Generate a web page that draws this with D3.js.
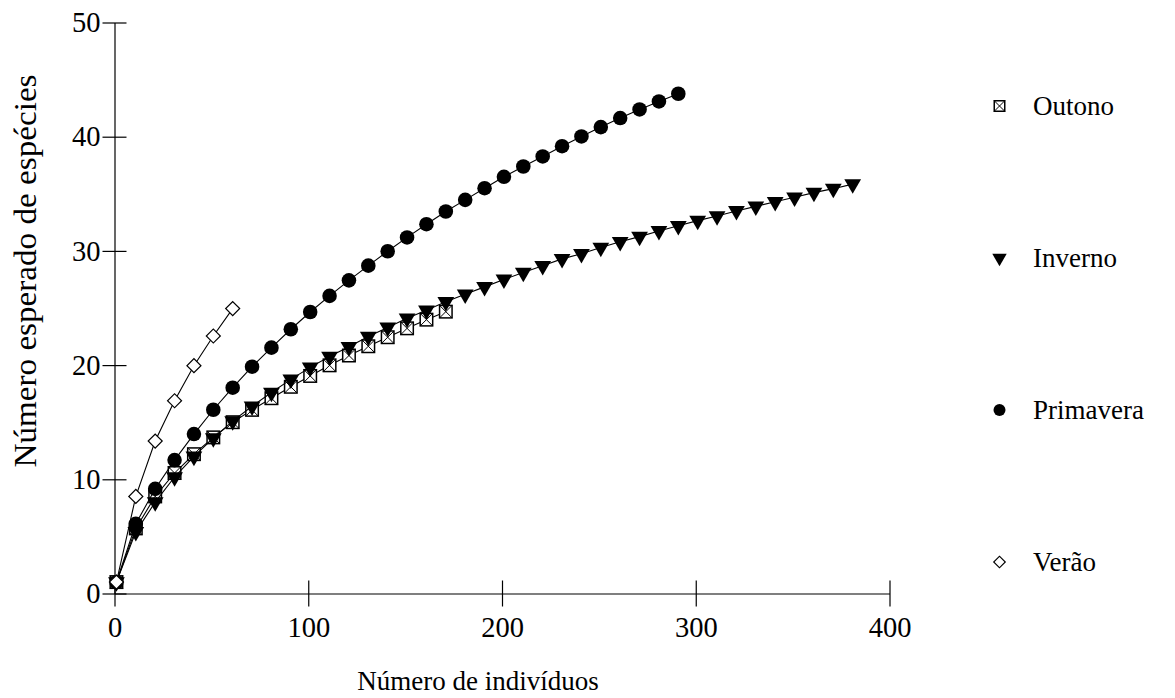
<!DOCTYPE html>
<html>
<head>
<meta charset="utf-8">
<script src="https://cdn.jsdelivr.net/npm/d3@7"></script>
<style>
  html, body { margin: 0; padding: 0; background: #fff; }
  svg { display: block; }
  text { font-family: "Liberation Serif", "Times New Roman", serif; fill: #000; }
</style>
</head>
<body>
<svg id="chart" width="1175" height="698"></svg>
<script>
// ---- data ----
const xTicks = [0, 100, 200, 300, 400];
const yTicks = [0, 10, 20, 30, 40, 50];
const xTitle = "Número de indivíduos";
const yTitle = "Número esperado de espécies";

const outonoX = [1, 11, 21, 31, 41, 51, 61, 71, 81, 91, 101, 111, 121, 131, 141, 151, 161, 171];
const outonoY = [1, 5.7, 8.5, 10.55, 12.2, 13.67, 15.0, 16.08, 17.1, 18.1, 19.05, 19.98, 20.84, 21.65, 22.44, 23.22, 23.98, 24.68];

const invernoX = [1, 11, 21, 31, 41, 51, 61, 71, 81, 91, 101, 111, 121, 131, 141, 151, 161, 171, 181, 191,
                  201, 211, 221, 231, 241, 251, 261, 271, 281, 291, 301, 311, 321, 331, 341, 351, 361, 371, 381];
const invernoY = [1, 5.4, 8.0, 10.2, 12.0, 13.6, 15.1, 16.4, 17.6, 18.75, 19.8, 20.75, 21.6, 22.5, 23.3, 24.1, 24.8, 25.55, 26.2, 26.85,
                  27.5, 28.1, 28.7, 29.3, 29.75, 30.3, 30.8, 31.25, 31.75, 32.2, 32.65, 33.05, 33.5, 33.9, 34.3, 34.7, 35.1, 35.45, 35.85];

const primaveraX = [1, 11, 21, 31, 41, 51, 61, 71, 81, 91, 101, 111, 121, 131, 141, 151, 161, 171, 181, 191,
                    201, 211, 221, 231, 241, 251, 261, 271, 281, 291];
const primaveraY = [1, 6.1, 9.17, 11.68, 13.96, 16.09, 18.02, 19.86, 21.53, 23.14, 24.65, 26.06, 27.42, 28.71, 29.97, 31.18, 32.34, 33.45, 34.47, 35.49,
                    36.49, 37.39, 38.27, 39.17, 40.02, 40.84, 41.63, 42.39, 43.09, 43.76];

const veraoX = [1, 11, 21, 31, 41, 51, 61];
const veraoY = [1, 8.5, 13.35, 16.88, 19.95, 22.55, 24.95];

const seriesNames = ["Outono", "Inverno", "Primavera", "Verão"];

// ---- build ----
const series = [
  { name: seriesNames[0], xs: outonoX, ys: outonoY, marker: "boxx" },
  { name: seriesNames[1], xs: invernoX, ys: invernoY, marker: "tri" },
  { name: seriesNames[2], xs: primaveraX, ys: primaveraY, marker: "circle" },
  { name: seriesNames[3], xs: veraoX, ys: veraoY, marker: "diamond" }
];

const svg = d3.select("#chart");
const FS = 27;
const TFS = 28.5;

const x = d3.scaleLinear().domain([0, 400]).range([114.5, 889.5]);
const y = d3.scaleLinear().domain([0, 50]).range([593.5, 22.5]);

// x axis
const gx = svg.append("g").attr("transform", `translate(0,${y(0)})`)
  .call(d3.axisBottom(x).tickValues(xTicks).tickSizeInner(13).tickSizeOuter(0).tickPadding(10).tickFormat(d3.format("d")));
gx.select(".domain").attr("stroke", "#000").attr("stroke-width", 1.2);
gx.selectAll(".tick line").attr("y1", -13).attr("y2", 13).attr("stroke", "#000").attr("stroke-width", 1.2);
gx.selectAll(".tick text").attr("font-size", TFS).style("font-family", "Liberation Serif");

// y axis
const gy = svg.append("g").attr("transform", `translate(${x(0)},0)`)
  .call(d3.axisLeft(y).tickValues(yTicks).tickSizeInner(12).tickSizeOuter(0).tickPadding(2).tickFormat(d3.format("d")));
gy.select(".domain").attr("stroke", "#000").attr("stroke-width", 1.2);
gy.selectAll(".tick line").attr("x1", 12).attr("x2", -12).attr("stroke", "#000").attr("stroke-width", 1.2);
gy.selectAll(".tick text").attr("font-size", TFS).style("font-family", "Liberation Serif");

// titles
svg.append("text").attr("x", 478).attr("y", 690).attr("text-anchor", "middle")
  .attr("font-size", FS).text(xTitle);
svg.append("text").attr("transform", "translate(36,271) rotate(-90)").attr("text-anchor", "middle")
  .attr("font-size", 31).attr("textLength", 393).attr("lengthAdjust", "spacingAndGlyphs").text(yTitle);

// marker drawing
function drawMarker(g, type, cx, cy, s) {
  if (type === "circle") {
    g.append("circle").attr("cx", cx).attr("cy", cy).attr("r", s * 0.52).attr("fill", "#000");
  } else if (type === "tri") {
    const sym = d3.symbol().type(d3.symbolTriangle).size(s * s * 0.62);
    g.append("path").attr("d", sym()).attr("transform", `translate(${cx},${cy}) rotate(180)`).attr("fill", "#000");
  } else if (type === "boxx") {
    const h = s / 2;
    g.append("rect").attr("x", cx - h).attr("y", cy - h).attr("width", s).attr("height", s)
      .attr("fill", "#fff").attr("stroke", "#000").attr("stroke-width", 1.5);
    g.append("path").attr("d", `M${cx - h},${cy - h}L${cx + h},${cy + h}M${cx + h},${cy - h}L${cx - h},${cy + h}`)
      .attr("stroke", "#000").attr("stroke-width", 1);
  } else if (type === "diamond") {
    const sym = d3.symbol().type(d3.symbolSquare).size(s * s * 0.5);
    g.append("path").attr("d", sym()).attr("transform", `translate(${cx},${cy}) rotate(45)`)
      .attr("fill", "#fff").attr("stroke", "#000").attr("stroke-width", 1.2);
  }
}

const markerSize = { boxx: 12.5, tri: 14, circle: 14, diamond: 14 };

series.forEach(s => {
  const pts = s.xs.map((xv, i) => [x(xv), y(s.ys[i])]);
  const g = svg.append("g");
  g.append("path").attr("d", d3.line()(pts)).attr("fill", "none").attr("stroke", "#000").attr("stroke-width", 1.1);
  pts.forEach(p => drawMarker(g, s.marker, p[0], p[1], markerSize[s.marker]));
});

// legend
const legendY = [106, 258, 410, 562];
const lg = svg.append("g");
series.forEach((s, i) => {
  const sz = { boxx: 10.5, tri: 12, circle: 11.5, diamond: 11.5 }[s.marker];
  drawMarker(lg, s.marker, 999.5, legendY[i], sz);
  lg.append("text").attr("x", 1033).attr("y", legendY[i]).attr("dy", "0.35em")
    .attr("font-size", FS).text(s.name);
});
</script>
</body>
</html>
